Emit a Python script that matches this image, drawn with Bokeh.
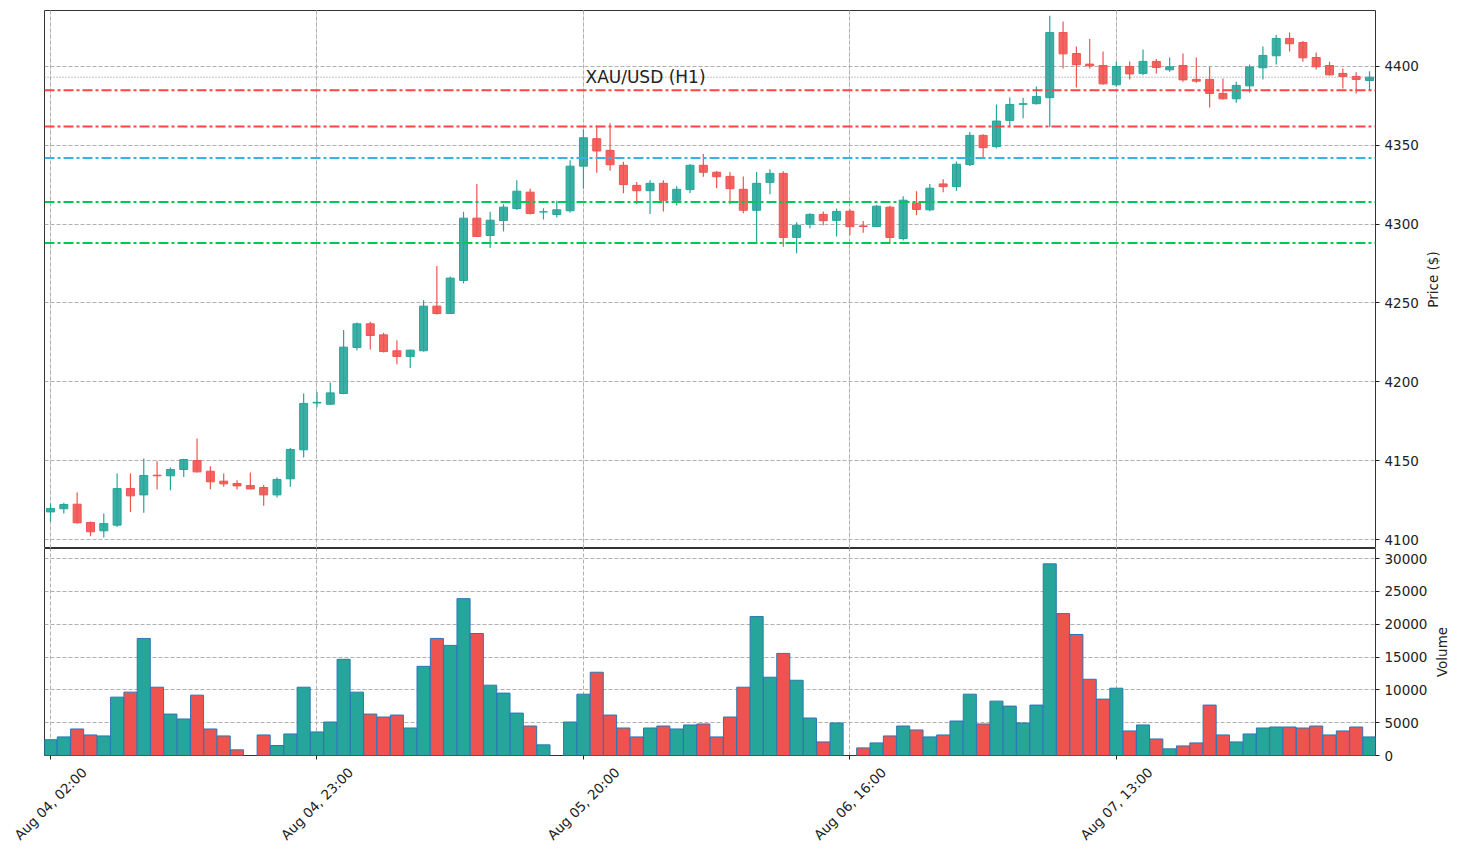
from math import pi

from bokeh.plotting import figure
from bokeh.layouts import column, row
from bokeh.models import ColumnDataSource, FixedTicker, Grid, Label, Range1d, Span
from bokeh.core.properties import value
from bokeh.embed import file_html
from bokeh.resources import INLINE

# XAU/USD hourly candles
opens = [4117.5, 4119.5, 4122.4, 4110.8, 4105.5, 4109.1, 4132.3, 4128.3, 4140.8, 4140.4,
         4144.4, 4150.1, 4143.3, 4137.0, 4135.5, 4134.2, 4133.0, 4128.3, 4138.5, 4156.9,
         4186.6, 4185.8, 4192.6, 4221.8, 4236.8, 4229.8, 4219.7, 4216.1, 4219.7, 4248.0,
         4243.3, 4264.3, 4303.8, 4292.8, 4302.3, 4309.9, 4320.3, 4307.8, 4306.1, 4308.5,
         4336.8, 4354.2, 4346.8, 4337.3, 4324.6, 4321.2, 4325.9, 4315.1, 4321.9, 4337.3,
         4332.9, 4330.3, 4322.1, 4308.8, 4326.5, 4332.2, 4291.6, 4299.9, 4306.2, 4302.4,
         4308.2, 4298.9, 4298.5, 4310.8, 4290.9, 4313.3, 4309.1, 4325.5, 4323.8, 4337.8,
         4356.3, 4349.2, 4365.8, 4376.0, 4376.4, 4380.2, 4421.5, 4408.2, 4401.5, 4400.6,
         4388.4, 4400.0, 4395.6, 4403.2, 4397.9, 4400.6, 4391.8, 4391.8, 4382.9, 4379.5,
         4387.7, 4399.2, 4406.8, 4417.8, 4415.2, 4405.7, 4400.6, 4395.6, 4393.7, 4391.1]
highs = [4122.8, 4123.3, 4129.8, 4111.4, 4116.5, 4141.9, 4141.9, 4151.4, 4149.7, 4145.7,
         4151.2, 4164.1, 4146.5, 4141.9, 4137.6, 4142.5, 4134.5, 4139.4, 4158.1, 4192.6,
         4193.6, 4199.6, 4232.8, 4237.6, 4238.1, 4231.1, 4226.4, 4220.3, 4251.8, 4273.4,
         4266.8, 4307.8, 4325.4, 4307.8, 4312.7, 4327.9, 4322.4, 4310.1, 4314.8, 4340.6,
         4360.2, 4362.5, 4364.0, 4339.6, 4326.7, 4327.8, 4327.8, 4324.0, 4338.2, 4344.5,
         4333.7, 4333.1, 4330.3, 4333.1, 4334.8, 4333.5, 4301.2, 4306.9, 4308.1, 4310.0,
         4309.4, 4302.0, 4312.2, 4311.6, 4317.7, 4320.9, 4325.5, 4328.5, 4339.7, 4358.4,
         4357.0, 4375.9, 4380.4, 4380.2, 4387.3, 4432.1, 4428.5, 4412.7, 4417.5, 4409.5,
         4403.0, 4403.2, 4410.8, 4404.7, 4405.7, 4408.2, 4405.7, 4399.8, 4392.4, 4390.3,
         4401.3, 4412.7, 4419.9, 4421.6, 4416.1, 4408.9, 4403.0, 4398.7, 4396.4, 4397.0]
lows = [4111.2, 4116.5, 4110.1, 4102.1, 4101.3, 4108.0, 4117.5, 4116.9, 4131.7, 4131.3,
        4139.7, 4142.5, 4131.9, 4133.4, 4131.7, 4131.9, 4121.4, 4126.6, 4133.4, 4152.0,
        4183.9, 4185.3, 4192.2, 4220.1, 4220.5, 4218.6, 4211.2, 4208.7, 4219.2, 4242.7,
        4243.0, 4262.4, 4292.0, 4284.8, 4295.3, 4308.9, 4306.1, 4303.0, 4304.2, 4307.4,
        4322.5, 4332.6, 4333.9, 4319.6, 4312.6, 4306.4, 4308.1, 4311.9, 4319.8, 4330.1,
        4322.7, 4312.6, 4306.9, 4288.3, 4318.9, 4285.7, 4281.5, 4297.4, 4299.3, 4292.1,
        4293.1, 4294.5, 4298.3, 4288.6, 4289.7, 4305.7, 4308.2, 4320.3, 4321.1, 4336.9,
        4342.4, 4348.1, 4361.4, 4367.1, 4375.9, 4361.4, 4398.7, 4386.7, 4398.7, 4388.4,
        4387.1, 4391.8, 4394.5, 4395.6, 4396.6, 4390.3, 4389.6, 4374.0, 4379.1, 4377.0,
        4383.5, 4391.8, 4401.3, 4409.5, 4403.0, 4398.1, 4394.1, 4386.0, 4382.9, 4385.0]
closes = [4119.7, 4122.2, 4110.6, 4104.9, 4110.1, 4132.3, 4127.7, 4140.6, 4140.4, 4144.4,
          4150.7, 4142.9, 4136.6, 4135.3, 4134.0, 4132.1, 4128.3, 4138.1, 4157.1, 4186.3,
          4187.0, 4193.0, 4222.0, 4236.8, 4229.4, 4219.2, 4216.1, 4220.1, 4248.0, 4243.3,
          4265.8, 4303.8, 4292.2, 4302.5, 4310.8, 4320.9, 4306.8, 4307.8, 4309.1, 4336.8,
          4354.8, 4346.4, 4337.7, 4325.1, 4321.2, 4325.9, 4315.1, 4322.1, 4337.3, 4332.9,
          4330.1, 4322.5, 4308.8, 4325.9, 4332.2, 4291.6, 4299.3, 4306.2, 4302.2, 4308.1,
          4298.4, 4298.5, 4311.4, 4291.6, 4315.2, 4309.3, 4322.8, 4323.8, 4338.0, 4356.3,
          4348.5, 4365.4, 4375.9, 4376.4, 4381.0, 4421.5, 4408.0, 4401.1, 4400.4, 4389.0,
          4400.0, 4395.3, 4403.2, 4399.4, 4399.8, 4391.5, 4390.7, 4382.9, 4379.5, 4388.0,
          4399.6, 4407.0, 4417.8, 4414.4, 4405.5, 4399.8, 4394.7, 4393.7, 4391.8, 4393.2]
volumes = [2400, 2830, 4040, 3130, 2980, 8890, 9650, 17830, 10400, 6310,
           5560, 9190, 4040, 2980, 860, 0, 3130, 1520, 3280, 10400,
           3590, 5100, 14650, 9650, 6310, 5860, 6160, 4190, 13580, 17830,
           16770, 23890, 18580, 10710, 9500, 6460, 4490, 1620, 0, 5100,
           9340, 12680, 6160, 4190, 2830, 4190, 4490, 4040, 4650, 4800,
           2830, 5860, 10400, 21160, 11920, 15550, 11460, 5710, 2070, 4950,
           0, 1160, 1920, 2980, 4490, 3890, 2830, 3130, 5250, 9340,
           4800, 8280, 7520, 4950, 7680, 29190, 21610, 18430, 11610, 8590,
           10250, 3740, 4650, 2520, 1010, 1460, 1920, 7680, 3130, 2070,
           3280, 4190, 4340, 4340, 4190, 4490, 3130, 3740, 4340, 2830]

tick_idx = [0, 20, 40, 60, 80]
tick_labels = ["Aug 04, 02:00", "Aug 04, 23:00", "Aug 05, 20:00", "Aug 06, 16:00", "Aug 07, 13:00"]

resistances = [4385, 4362]
pivot_levels = [4342]
supports = [4314, 4288]

UP = "#26a69a"
DOWN = "#ef5350"
FONT = "DejaVu Sans"
GRID = "#b0b0b0"
TXT = "#222222"

FRAME_W = 1331
LEFT = 44
X0, X1 = -0.45, 99.45


def style_axis(ax):
    ax.axis_line_color = None
    ax.major_tick_out = 4
    ax.major_tick_in = 0
    ax.minor_tick_line_color = None
    ax.major_tick_line_color = TXT
    ax.major_label_standoff = 5
    ax.major_label_text_font = FONT
    ax.major_label_text_font_size = "13.5px"
    ax.major_label_text_color = TXT


def bare(fig):
    fig.outline_line_color = None
    fig.grid.visible = False
    fig.background_fill_color = "white"


def title_strip(y_range, text, top, frame_h, bottom):
    # narrow strip right of an axis, holding its title read bottom-to-top
    t = figure(frame_width=16, frame_height=frame_h, x_range=(0, 16), y_range=y_range,
               output_backend="svg", toolbar_location=None, x_axis_location=None,
               y_axis_location=None, min_border_left=0, min_border_right=0,
               min_border_top=top, min_border_bottom=bottom)
    bare(t)
    mid = (y_range.start + y_range.end) / 2
    t.text(x=[8], y=[mid], text=[text], angle=pi / 2, text_align="center",
           text_baseline="middle", text_font=value(FONT), text_font_size="13.5px",
           text_color=TXT)
    return t


idx = list(range(len(opens)))
colors = [UP if c >= o else DOWN for o, c in zip(opens, closes)]
src = ColumnDataSource(dict(
    x=idx, h=highs, l=lows, color=colors,
    top=[max(o, c) for o, c in zip(opens, closes)],
    bottom=[min(o, c) for o, c in zip(opens, closes)],
))
# bars with no volume are left out
vsrc = ColumnDataSource(dict(
    x=[i for i in idx if volumes[i] > 0],
    vol=[v for v in volumes if v > 0],
    color=[colors[i] for i in idx if volumes[i] > 0],
))

xr = Range1d(X0, X1)
price_range = Range1d(4094.3, 4435.5)
vol_range = Range1d(0, 31526)

# ---- price panel ----
p = figure(frame_width=FRAME_W, frame_height=538, x_range=xr, y_range=price_range,
           output_backend="svg", toolbar_location=None, y_axis_location="right",
           x_axis_location=None, min_border_left=LEFT, min_border_top=10,
           min_border_bottom=0, min_border_right=49)
p.background_fill_color = "white"
p.outline_line_color = "#333333"
p.outline_line_width = 1
style_axis(p.yaxis[0])
p.yaxis.ticker = FixedTicker(ticks=list(range(4100, 4401, 50)))
p.ygrid.ticker = p.yaxis[0].ticker
p.ygrid.grid_line_color = GRID
p.ygrid.grid_line_dash = "4 2"
p.add_layout(Grid(dimension=0, ticker=FixedTicker(ticks=tick_idx), grid_line_color=GRID,
                  grid_line_dash="4 2"))

p.segment(x0="x", y0="l", x1="x", y1="h", line_color="color", line_width=1.2, source=src)
p.vbar(x="x", width=0.6, top="top", bottom="bottom", fill_color="color", fill_alpha=0.9,
       line_color="color", line_width=1, source=src)

for lvl in resistances:
    p.add_layout(Span(location=lvl, dimension="width", line_color="#ff4444",
                      line_width=2, line_dash="10 3 3 3"))
for lvl in pivot_levels:
    p.add_layout(Span(location=lvl, dimension="width", line_color="#33b5e5",
                      line_width=2, line_dash="10 3 3 3"))
for lvl in supports:
    p.add_layout(Span(location=lvl, dimension="width", line_color="#00c853",
                      line_width=2, line_dash="10 3 3 3"))
# last close
p.add_layout(Span(location=closes[-1], dimension="width", line_color="#888888",
                  line_width=1, line_dash="1 2"))

p.add_layout(Label(x=601, y=472, x_units="screen", y_units="screen", text="XAU/USD (H1)",
                   text_align="center", text_baseline="alphabetic", text_font=FONT,
                   text_font_size="17px", text_color=TXT))

# ---- volume panel ----
v = figure(frame_width=FRAME_W, frame_height=207, x_range=xr, y_range=vol_range,
           output_backend="svg", toolbar_location=None, y_axis_location="right",
           min_border_left=LEFT, min_border_top=0, min_border_bottom=8, min_border_right=58)
v.background_fill_color = "white"
v.outline_line_color = "#333333"
v.outline_line_width = 1
style_axis(v.yaxis[0])
v.yaxis.ticker = FixedTicker(ticks=list(range(0, 30001, 5000)))
v.ygrid.ticker = v.yaxis[0].ticker
v.ygrid.grid_line_color = GRID
v.ygrid.grid_line_dash = "4 2"
style_axis(v.xaxis[0])
v.xaxis.ticker = FixedTicker(ticks=tick_idx)
v.xaxis.major_label_overrides = {i: "" for i in tick_idx}
v.xaxis.major_label_standoff = 0
v.xgrid.ticker = v.xaxis[0].ticker
v.xgrid.grid_line_color = GRID
v.xgrid.grid_line_dash = "4 2"

v.vbar(x="x", width=0.98, top="vol", bottom=0, fill_color="color", line_color="#2a77b4",
       line_width=1, source=vsrc)

# ---- date labels, on the same x scale as the panels ----
px_per_bar = FRAME_W / (X1 - X0)
d_w = 1449
d0 = X0 - LEFT / px_per_bar
d = figure(frame_width=d_w, frame_height=88, x_range=(d0, d0 + d_w / px_per_bar),
           y_range=(0, 88), output_backend="svg", toolbar_location=None,
           x_axis_location=None, y_axis_location=None, min_border=0)
bare(d)
d.text(x=tick_idx, y=[48] * len(tick_idx), text=tick_labels, angle=pi / 4,
       text_align="center", text_baseline="middle", text_font=value(FONT),
       text_font_size="13.5px", text_color=TXT)

page = column(
    row(p, title_strip(price_range, "Price ($)", 10, 538, 0)),
    row(v, title_strip(vol_range, "Volume", 0, 207, 8)),
    d,
)
open("out.html", "w").write(file_html(page, INLINE))
